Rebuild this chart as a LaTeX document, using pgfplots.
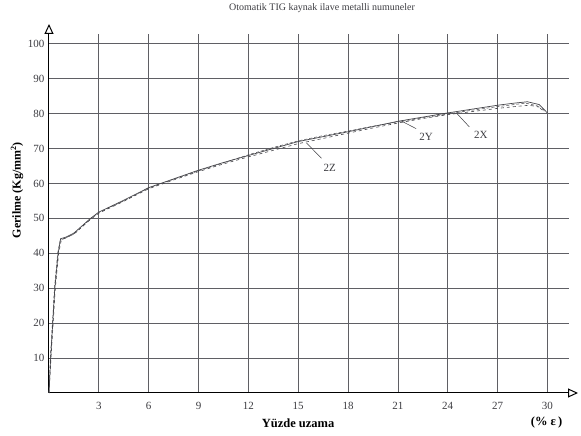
\documentclass[border=0pt]{standalone}
\usepackage{fontspec}
\setmainfont{Liberation Serif}
\usepackage{pgfplots}
\pgfplotsset{compat=1.18}
\usetikzlibrary{arrows.meta}
\definecolor{gridc}{RGB}{95,95,100}
\definecolor{curvec}{RGB}{70,70,75}
\definecolor{txtc}{RGB}{60,60,65}
\begin{document}
\begin{tikzpicture}
\useasboundingbox (-49pt,-43pt) rectangle (532pt,393pt);
\begin{axis}[
  scale only axis,
  width=520pt, height=359pt,
  xmin=0, xmax=31.3, ymin=0, ymax=102.8,
  axis lines=left,
  x axis line style={-{Triangle[open,length=10pt,width=9pt]}, shorten >=-9pt, line width=1pt},
  y axis line style={-{Triangle[open,length=10pt,width=9pt]}, shorten >=-10pt, line width=1pt},
  xtick={3,6,...,30}, ytick={10,20,...,100},
  tick style={draw=none},
  grid=major,
  major grid style={gridc, line width=0.7pt},
  /pgf/number format/assume math mode=true,
  ticklabel style={font=\fontsize{11}{13}\selectfont, text=txtc},
  xticklabel style={yshift=-4pt},
  yticklabel style={xshift=1pt},
  clip=false,
]
\addplot[curvec, line width=0.7pt] coordinates {
(0,0) (0.1,10) (0.35,30) (0.55,40) (0.7,44.2) (1.0,44.6) (1.5,45.8) (2.5,50) (3,51.8) (4.5,55.2) (6,58.8) (7.5,61.3) (9,63.8) (10.5,66) (12,68) (13.5,70) (15,72) (16.5,73.4) (18,74.8) (19.5,76.3) (21,77.8) (22.5,79) (24,80.2) (25.5,81.3) (27,82.4) (28,83) (28.8,83.4) (29.5,82.6) (30,80.2)
};
\addplot[curvec, line width=0.6pt, dashed] coordinates {
(0,0) (0.12,10) (0.38,30) (0.58,40) (0.75,44.0) (1.05,44.4) (1.6,45.9) (2.5,49.7) (3,51.5) (4.5,54.9) (6,58.5) (7.5,61.0) (9,63.4) (10.5,65.6) (12,67.6) (13.5,69.5) (15,71.4) (16.5,72.9) (18,74.4) (19.5,75.9) (21,77.3) (22.5,78.6) (24,79.7) (25.5,80.6) (27,81.5) (28,82.0) (28.9,82.4) (29.6,81.8) (29.9,80.5)
};
\addplot[curvec, line width=0.5pt, densely dashed] coordinates {
(0,0) (0.08,10) (0.33,30) (0.52,40) (0.68,43.8) (0.95,44.3) (1.5,45.5) (2.5,49.9) (3,51.7) (4.5,55.0) (6,58.7) (7.5,61.2) (9,63.6) (10.5,65.9) (12,68.2) (13.5,70.3) (15,72.2) (16.5,73.7) (18,75.0) (19.5,76.4) (21,77.6) (22.5,78.8) (24,79.9) (25.5,81.0) (27,82.0) (28,82.6) (28.7,83.0) (29.4,82.2) (29.8,80.6)
};
% labels with leader lines
\draw[txtc, line width=0.5pt] (axis cs:15.5,71.6) -- (axis cs:16.4,67.2);
\node[txtc, font=\fontsize{11}{13}\selectfont] at (axis cs:16.9,64.6) {2Z};
\draw[txtc, line width=0.5pt] (axis cs:21.2,77.9) -- (axis cs:22.1,75.7);
\node[txtc, font=\fontsize{11}{13}\selectfont] at (axis cs:22.7,73.4) {2Y};
\draw[txtc, line width=0.5pt] (axis cs:24.5,80.3) -- (axis cs:25.3,76.2);
\node[txtc, font=\fontsize{11}{13}\selectfont] at (axis cs:26.0,74.0) {2X};
% titles
\node[txtc, font=\fontsize{10}{12}\selectfont] at (rel axis cs:0.525,1.0724) {Otomatik TIG kaynak ilave metalli numuneler};
\node[black, font=\bfseries\fontsize{12}{14}\selectfont, rotate=90] at (rel axis cs:-0.0615,0.565) {Gerilme (Kg/mm\textsuperscript{2})};
\node[black, font=\bfseries\fontsize{12.5}{14}\selectfont] at (rel axis cs:0.479,-0.0836) {Yüzde uzama};
\node[black, font=\bfseries\fontsize{12.5}{14}\selectfont] at (rel axis cs:0.957,-0.0808) {(\% ε\,)};
\end{axis}
\end{tikzpicture}
\end{document}
